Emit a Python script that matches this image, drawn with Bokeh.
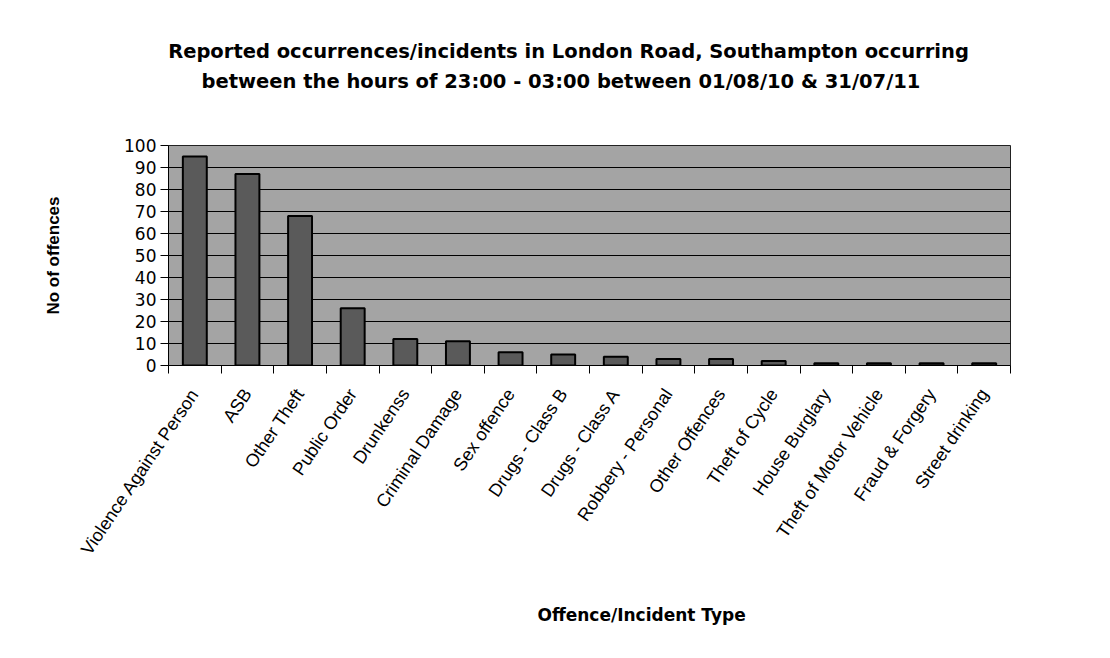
import math
from bokeh.plotting import figure
from bokeh.layouts import column
from bokeh.models import Range1d, LinearAxis, FixedTicker
from bokeh.core.properties import value
from bokeh.embed import file_html
from bokeh.resources import INLINE

categories = ["Violence Against Person", "ASB", "Other Theft", "Public Order", "Drunkenss",
              "Criminal Damage", "Sex offence", "Drugs - Class B", "Drugs - Class A",
              "Robbery - Personal", "Other Offences", "Theft of Cycle", "House Burglary",
              "Theft of Motor Vehicle", "Fraud & Forgery", "Street drinking"]
counts = [95, 87, 68, 26, 12, 11, 6, 5, 4, 3, 3, 2, 1, 1, 1, 1]
y_ticks = [0, 10, 20, 30, 40, 50, 60, 70, 80, 90, 100]
title_lines = ["Reported occurrences/incidents in London Road, Southampton occurring",
               "between the hours of 23:00 - 03:00 between 01/08/10 & 31/07/11"]
x_title = "Offence/Incident Type"
y_title = "No of offences"

FONT = "Liberation Sans"
WIDE = "DejaVu Sans"
W = 1094
LEFT, RIGHT = 168, 1010          # frame edges in page pixels (frames are aligned in the column)
n = len(categories)
centers = [i + 0.5 for i in range(n)]
bounds = list(range(n + 1))


def text_panel(height):
    # x in page pixels: the column aligns this frame with the chart frame
    f = figure(width=W, height=height, x_range=Range1d(LEFT, RIGHT), y_range=Range1d(height, 0),
               output_backend="svg", toolbar_location=None,
               x_axis_location=None, y_axis_location=None,
               min_border=0, min_border_left=LEFT, min_border_right=W - RIGHT,
               min_border_top=0, min_border_bottom=0)
    f.grid.visible = False
    f.outline_line_color = None
    f.background_fill_color = "white"
    f.border_fill_color = "white"
    return f


# ---- title panel ----
top = text_panel(130)
top.text(x=[568, 560.5], y=[51, 81], text=title_lines, text_align="center",
         text_baseline="alphabetic", text_font=value(WIDE), text_font_size="19.5px",
         text_font_style="bold", text_color="black")

# ---- main chart ----
p = figure(x_range=Range1d(0, n), y_range=Range1d(0, 100), width=W, height=445,
           output_backend="svg", toolbar_location=None, x_axis_location=None,
           min_border_left=LEFT, min_border_right=W - RIGHT, min_border_top=15,
           min_border_bottom=210)

p.background_fill_color = "#a4a4a4"
p.border_fill_color = "white"
p.outline_line_color = "#222222"
p.outline_line_width = 1

p.vbar(x=centers, top=counts, width=0.455, fill_color="#5a5a5a",
       line_color="black", line_width=2)

p.xgrid.grid_line_color = None
p.ygrid.grid_line_color = "black"
p.ygrid.grid_line_alpha = 1
p.ygrid.grid_line_width = 1
p.ygrid.ticker = FixedTicker(ticks=y_ticks)

ya = p.yaxis[0]
ya.ticker = FixedTicker(ticks=y_ticks)
ya.axis_line_color = "black"
ya.major_tick_out = 8
ya.major_tick_in = 0
ya.minor_tick_line_color = None
ya.major_label_text_font = WIDE
ya.major_label_text_font_size = "17px"
ya.major_label_text_color = "black"
ya.major_label_standoff = 4
ya.axis_label = y_title
ya.axis_label_text_font = FONT
ya.axis_label_text_font_size = "17px"
ya.axis_label_text_font_style = "bold"
ya.axis_label_text_color = "black"
ya.axis_label_standoff = 58

# labels at category centres, tick marks at category boundaries (minor ticks)
cat_axis = LinearAxis(ticker=FixedTicker(ticks=centers, minor_ticks=bounds),
                      major_label_overrides={c: name for c, name in zip(centers, categories)},
                      major_tick_out=8, major_tick_in=0, major_tick_line_color=None,
                      minor_tick_out=8, minor_tick_in=0, minor_tick_line_color="black",
                      axis_line_color="black",
                      major_label_orientation=math.radians(56),
                      major_label_text_font=FONT, major_label_text_font_size="18px",
                      major_label_text_color="black", major_label_standoff=17)
p.add_layout(cat_axis, "below")

# ---- x-axis title panel ----
bottom = text_panel(67)
bottom.text(x=[537], y=[39], text=[x_title], text_align="left", text_baseline="alphabetic",
            text_font=value(WIDE), text_font_size="17px", text_font_style="bold",
            text_color="black")

layout = column(top, p, bottom, spacing=0)
open("out.html", "w").write(file_html(layout, INLINE))
